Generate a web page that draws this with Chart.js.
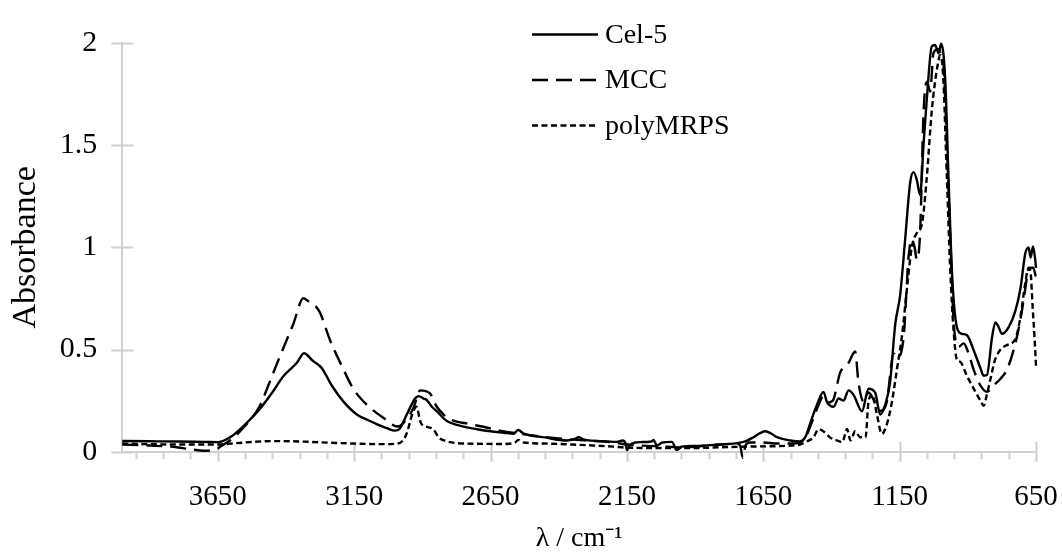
<!DOCTYPE html>
<html><head><meta charset="utf-8">
<script src="https://cdn.jsdelivr.net/npm/chart.js@4.4.0/dist/chart.umd.min.js"></script>
<style>html,body{margin:0;padding:0;background:#fff}#wrap{width:1062px;height:555px}</style>
</head><body><div id="wrap"><canvas id="c" width="1062" height="555"></canvas></div>
<script>
const seriesNames = ['Cel-5', 'MCC', 'polyMRPS'];

const cel5Wn  = [4000,3900,3800,3700,3648,3600,3568,3530,3495,3450,3409,3360,3334,3300,3269,3232,3189,3140,3100,3067,3030,3000,2985,2957,2926,2914,2895,2884,2865,2847,2810,2770,2737,2700,2650,2600,2566,2548,2530,2450,2370,2335,2327,2310,2250,2187,2165,2155,2150,2140,2120,2100,2060,2052,2040,2020,1985,1967,1950,1900,1820,1722,1686,1660,1643,1620,1600,1551,1515,1496,1475,1453,1429,1417,1392,1374,1356,1337,1319,1288,1264,1240,1221,1203,1185,1166,1148,1130,1111,1099,1087,1075,1062,1050,1032,1020,1007,998,983,971,958,940,922,903,879,854,842,830,811,799,787,775,750,726,707,689,677,670,661,653,650];
const cel5Abs = [0.052,0.051,0.050,0.048,0.047,0.075,0.110,0.160,0.210,0.290,0.370,0.435,0.482,0.443,0.410,0.324,0.245,0.182,0.155,0.135,0.115,0.103,0.110,0.182,0.262,0.272,0.260,0.253,0.220,0.198,0.150,0.130,0.119,0.110,0.100,0.093,0.088,0.106,0.090,0.070,0.055,0.065,0.072,0.060,0.052,0.048,0.055,0.040,0.008,0.030,0.045,0.047,0.050,0.057,0.030,0.045,0.048,0.008,0.025,0.028,0.035,0.048,0.071,0.092,0.100,0.088,0.071,0.055,0.050,0.071,0.150,0.230,0.293,0.245,0.220,0.260,0.250,0.300,0.278,0.198,0.308,0.290,0.182,0.230,0.340,0.625,0.767,1.036,1.320,1.368,1.330,1.257,1.510,1.731,1.984,1.990,1.950,1.997,1.826,1.352,0.877,0.609,0.577,0.570,0.498,0.410,0.372,0.375,0.561,0.633,0.610,0.577,0.610,0.688,0.799,0.972,1.000,0.950,1.004,0.940,0.900];

const mccWn  = [4000,3900,3800,3750,3700,3660,3640,3600,3568,3495,3460,3422,3373,3336,3312,3290,3275,3238,3195,3153,3104,3043,2990,2970,2933,2908,2872,2847,2822,2798,2725,2676,2615,2500,2400,2300,2200,2150,2100,2000,1950,1900,1800,1750,1735,1725,1715,1700,1650,1600,1540,1500,1470,1450,1430,1415,1395,1368,1337,1313,1301,1282,1264,1240,1221,1197,1172,1160,1136,1117,1105,1095,1087,1075,1062,1050,1038,1026,1010,995,989,977,964,952,934,915,897,879,854,830,806,781,757,732,708,689,680,671,660,650];
const mccAbs = [0.035,0.030,0.022,0.012,0.005,0.008,0.025,0.060,0.100,0.226,0.340,0.467,0.625,0.751,0.730,0.710,0.680,0.545,0.419,0.308,0.230,0.166,0.123,0.140,0.213,0.300,0.285,0.220,0.182,0.158,0.135,0.122,0.103,0.080,0.065,0.055,0.045,0.035,0.030,0.025,0.020,0.025,0.035,0.040,0.030,-0.030,0.030,0.045,0.045,0.040,0.040,0.060,0.150,0.220,0.270,0.240,0.250,0.387,0.435,0.490,0.340,0.245,0.290,0.240,0.200,0.245,0.480,0.460,0.550,0.957,1.036,1.000,0.940,1.070,1.668,1.810,1.763,1.950,1.970,1.930,1.890,1.510,1.040,0.640,0.514,0.530,0.480,0.403,0.324,0.293,0.324,0.356,0.400,0.498,0.640,0.800,0.880,0.900,0.900,0.850];

const polyWn  = [4000,3800,3650,3600,3450,3350,3200,3050,2990,2960,2935,2922,2905,2880,2860,2840,2820,2750,2600,2560,2548,2530,2450,2350,2200,2150,2000,1900,1800,1700,1550,1515,1490,1466,1447,1430,1405,1380,1360,1343,1330,1313,1295,1275,1264,1250,1233,1215,1197,1178,1160,1142,1123,1105,1087,1068,1050,1032,1013,1001,990,977,965,952,940,928,903,879,854,842,830,817,800,780,760,726,707,690,677,670,662,655,650];
const polyAbs = [0.040,0.035,0.035,0.040,0.052,0.050,0.042,0.037,0.040,0.080,0.190,0.220,0.140,0.120,0.110,0.070,0.055,0.040,0.038,0.045,0.058,0.045,0.040,0.035,0.025,0.020,0.018,0.018,0.022,0.025,0.030,0.035,0.050,0.070,0.110,0.100,0.070,0.055,0.047,0.111,0.055,0.100,0.071,0.070,0.245,0.278,0.180,0.087,0.134,0.245,0.403,0.560,0.800,1.004,1.070,1.115,1.350,1.670,1.873,1.940,1.830,1.350,0.910,0.590,0.450,0.440,0.370,0.310,0.250,0.225,0.280,0.356,0.450,0.500,0.520,0.550,0.660,0.820,0.900,0.880,0.700,0.550,0.420];

const xTickValues = [650, 1150, 1650, 2150, 2650, 3150, 3650];
const yTickValues = [0, 0.5, 1, 1.5, 2];

const FONT = "'Liberation Serif', 'Times New Roman', serif";
const GRAY = '#d0d0d0';

function pts(wn, ab) { return wn.map((w, i) => ({x: w, y: ab[i]})); }

const tickPlugin = {
  id: 'tickMarks',
  beforeDatasetsDraw(chart) {
    const {ctx, scales: {x, y}} = chart;
    const ay = y.getPixelForValue(0);
    const ax = x.getPixelForValue(4000);
    ctx.save();
    ctx.strokeStyle = GRAY;
    ctx.lineWidth = 2;
    ctx.beginPath();
    for (let v = 750; v < 4000; v += 100) {
      if (xTickValues.includes(v)) continue;
      const px = Math.round(x.getPixelForValue(v)) + 0.5;
      ctx.moveTo(px, ay); ctx.lineTo(px, ay + 7.5);
    }
    xTickValues.forEach(v => {
      const px = Math.round(x.getPixelForValue(v)) + 0.5;
      ctx.moveTo(px, ay - 10); ctx.lineTo(px, ay + 10);
    });
    yTickValues.forEach(v => {
      const py = Math.round(y.getPixelForValue(v)) + 0.5;
      ctx.moveTo(ax - 11, py); ctx.lineTo(ax + 11, py);
    });
    ctx.stroke();
    ctx.restore();
  }
};

const legendPlugin = {
  id: 'ownLegend',
  afterDraw(chart) {
    const ctx = chart.ctx;
    ctx.save();
    chart.data.datasets.forEach((ds, i) => {
      const ly = 34.5 + i * 45.5;
      ctx.strokeStyle = '#000';
      ctx.lineWidth = ds.borderWidth;
      ctx.setLineDash(ds.borderDash || []);
      ctx.beginPath();
      ctx.moveTo(532, ly); ctx.lineTo(598, ly);
      ctx.stroke();
      ctx.setLineDash([]);
      ctx.fillStyle = '#000';
      ctx.font = '28px ' + FONT;
      ctx.textBaseline = 'middle';
      ctx.textAlign = 'left';
      ctx.fillText(ds.label, 605, ly + 1);
    });
    ctx.restore();
  }
};

const styles = [
  {borderDash: []},
  {borderDash: [16, 8]},
  {borderDash: [6, 3.5]}
];
const rawSeries = [pts(cel5Wn, cel5Abs), pts(mccWn, mccAbs), pts(polyWn, polyAbs)];

new Chart(document.getElementById('c'), {
  type: 'line',
  data: {
    datasets: rawSeries.map((d, i) => ({
      label: seriesNames[i],
      data: d,
      borderColor: '#000',
      borderWidth: 2.4,
      borderDash: styles[i].borderDash,
      pointRadius: 0,
      fill: false,
      cubicInterpolationMode: 'monotone',
      clip: false
    }))
  },
  options: {
    responsive: false,
    animation: false,
    devicePixelRatio: 1,
    layout: {padding: {left: 0, top: 30, right: 26, bottom: 0}},
    plugins: {legend: {display: false}, tooltip: {enabled: false}},
    scales: {
      x: {
        type: 'linear', min: 650, max: 4000, reverse: true,
        afterBuildTicks: s => { s.ticks = xTickValues.map(v => ({value: v})); },
        afterFit: s => { s.height = 103.3; },
        grid: {display: false, drawTicks: false},
        border: {display: true, color: GRAY, width: 2},
        ticks: {padding: 28, autoSkip: false, maxRotation: 0, color: '#000',
                font: {family: FONT, size: 29}, callback: v => String(v)},
        title: {display: true, text: 'λ / cm⁻¹', color: '#000',
                font: {family: FONT, size: 28}, padding: {top: 0, bottom: 0}}
      },
      y: {
        min: 0, max: 2,
        afterBuildTicks: s => { s.ticks = yTickValues.map(v => ({value: v})); },
        afterFit: s => { s.width = 122.3; },
        grid: {display: false, drawTicks: false},
        border: {display: true, color: GRAY, width: 2},
        ticks: {padding: 25, color: '#000', font: {family: FONT, size: 30}, callback: v => String(v)},
        title: {display: true, text: 'Absorbance', color: '#000',
                font: {family: FONT, size: 34}, padding: {top: 6, bottom: 0}}
      }
    }
  },
  plugins: [tickPlugin, legendPlugin]
});
</script></body></html>
